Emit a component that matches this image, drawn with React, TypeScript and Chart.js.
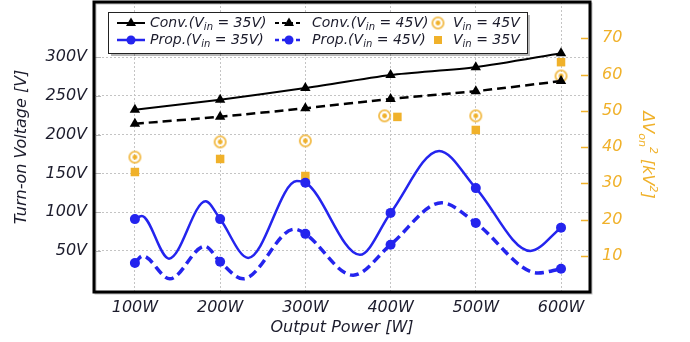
import { useEffect, useRef } from 'react';
import { Chart, registerables } from 'chart.js';

Chart.register(...registerables);

// ---------- data ----------
const powerLevels = [100, 200, 300, 400, 500, 600];
const xTickValues = [100, 200, 300, 400, 500, 600];
const yTickValues = [50, 100, 150, 200, 250, 300];
const y1TickValues = [10, 20, 30, 40, 50, 60, 70];

const convV35 = [232, 245, 260, 277, 287, 305];
const convV45 = [214, 223, 234, 246, 256, 269];
const propV35 = [91, 91, 138, 99, 131, 80];
const propV45 = [34.5, 36, 72, 58, 86, 27];

// turning points of the smoothed Prop. curves [W, V]
const propV35Turns = [
  [108, 95], [140, 40], [183, 114], [233, 41], [290, 140], [364, 45], [457, 179], [564, 50],
];
const propV45Turns = [
  [109, 43.5], [141, 14], [182, 56], [227, 14], [287, 78], [356, 18.6], [460, 112], [573, 21.5],
];

// ΔVon² [kV²]
const dvPowerV45 = [100, 200, 300, 393, 500, 600];
const dvV45 = [37.2, 41.4, 41.7, 48.6, 48.6, 59.6];
const dvPowerV35 = [100, 200, 300, 408, 500, 600];
const dvV35 = [33.1, 36.7, 32, 48.3, 44.7, 63.4];

// ---------- styles ----------
const FONT = 'DejaVu Sans';
const BLUE = '#2424ee';
const ORANGE = '#f0b12a';
const TEXT = '#1c1c2c';

function ringStyle(): HTMLCanvasElement {
  const c = document.createElement('canvas');
  c.width = 15;
  c.height = 15;
  const g = c.getContext('2d')!;
  g.strokeStyle = '#f2bb48';
  g.lineWidth = 1.8;
  g.beginPath();
  g.arc(7.5, 7.5, 5.6, 0, Math.PI * 2);
  g.stroke();
  g.fillStyle = ORANGE;
  g.beginPath();
  g.arc(7.5, 7.5, 2.4, 0, Math.PI * 2);
  g.fill();
  return c;
}

function curveData(xs: number[], ys: number[], turns: number[][]) {
  const pts = xs.map((x, i) => ({ x, y: ys[i], m: true }));
  turns.forEach(([x, y]) => pts.push({ x, y, m: false }));
  pts.sort((a, b) => a.x - b.x);
  return pts;
}

type Part = { t: string; k?: 'sub' | 'sup' };

function drawRich(ctx: CanvasRenderingContext2D, x: number, y: number, parts: Part[], size: number, color: string, measureOnly = false) {
  let cx = x;
  parts.forEach((p) => {
    const s = p.k ? Math.round(size * 0.7) : size;
    ctx.font = `italic ${s}px "${FONT}"`;
    const dy = p.k === 'sub' ? size * 0.3 : p.k === 'sup' ? -size * 0.38 : 0;
    if (!measureOnly) {
      ctx.fillStyle = color;
      ctx.fillText(p.t, cx, y + dy);
    }
    cx += ctx.measureText(p.t).width;
  });
  return cx - x;
}

const overlayPlugin = {
  id: 'overlay',
  afterDraw(chart: any) {
    const { ctx, chartArea } = chart;
    const { left, right, top, bottom } = chartArea;
    ctx.save();

    // orange inner ticks of right axis
    const y1 = chart.scales.y1;
    ctx.strokeStyle = ORANGE;
    ctx.lineWidth = 1.5;
    y1TickValues.forEach((v) => {
      const py = Math.round(y1.getPixelForValue(v)) + 0.5;
      ctx.beginPath();
      ctx.moveTo(right - 9, py);
      ctx.lineTo(right - 2, py);
      ctx.stroke();
    });
    // light inner ticks of left axis
    const ys = chart.scales.y;
    ctx.strokeStyle = '#b8b8b8';
    ctx.lineWidth = 1;
    yTickValues.forEach((v) => {
      const py = Math.round(ys.getPixelForValue(v)) + 0.5;
      ctx.beginPath();
      ctx.moveTo(left + 2, py);
      ctx.lineTo(left + 7, py);
      ctx.stroke();
    });

    // frame with slight shadow
    ctx.strokeStyle = 'rgba(0,0,0,0.25)';
    ctx.lineWidth = 2;
    ctx.strokeRect(left + 1.5, top + 1.5, right - left, bottom - top);
    ctx.strokeStyle = '#000';
    ctx.lineWidth = 3;
    ctx.strokeRect(left, top, right - left, bottom - top);

    // legend box
    const lx = 108, ly = 12, lw = 419, lh = 41;
    ctx.fillStyle = 'rgba(0,0,0,0.28)';
    ctx.fillRect(lx + 3, ly + 3, lw, lh);
    ctx.fillStyle = '#fff';
    ctx.fillRect(lx, ly, lw, lh);
    ctx.strokeStyle = '#222';
    ctx.lineWidth = 1;
    ctx.strokeRect(lx + 0.5, ly + 0.5, lw, lh);

    const rows = [23, 40];
    const drawSample = (x0: number, y: number, color: string, dash: number[], lwid: number, marker: 'tri' | 'dot') => {
      ctx.strokeStyle = color;
      ctx.lineWidth = lwid;
      ctx.setLineDash(dash);
      ctx.beginPath();
      ctx.moveTo(x0, y);
      ctx.lineTo(x0 + 28, y);
      ctx.stroke();
      ctx.setLineDash([]);
      ctx.fillStyle = color;
      ctx.beginPath();
      const cx = x0 + 14;
      if (marker === 'tri') {
        ctx.moveTo(cx, y - 5.5);
        ctx.lineTo(cx + 5, y + 3);
        ctx.lineTo(cx - 5, y + 3);
        ctx.closePath();
      } else {
        ctx.arc(cx, y, 4.5, 0, Math.PI * 2);
      }
      ctx.fill();
    };
    drawSample(117, rows[0], '#000', [], 2, 'tri');
    drawSample(275, rows[0], '#000', [4, 3], 2, 'tri');
    drawSample(117, rows[1], BLUE, [], 2.5, 'dot');
    drawSample(275, rows[1], BLUE, [4, 3], 2.5, 'dot');
    ctx.drawImage(ring, 438 - 7.5, rows[0] - 7.5);
    ctx.fillStyle = ORANGE;
    ctx.fillRect(434, rows[1] - 4, 8, 8);

    ctx.textBaseline = 'middle';
    ctx.textAlign = 'left';
    const lbl = (pre: string, val: string): Part[] => [
      { t: pre + 'V' }, { t: 'in', k: 'sub' }, { t: ' = ' + val + (pre ? ')' : '') },
    ];
    drawRich(ctx, 150, rows[0], lbl('Conv.(', '35V'), 14, TEXT);
    drawRich(ctx, 312, rows[0], lbl('Conv.(', '45V'), 14, TEXT);
    drawRich(ctx, 453, rows[0], lbl('', '45V'), 14, TEXT);
    drawRich(ctx, 150, rows[1], lbl('Prop.(', '35V'), 14, TEXT);
    drawRich(ctx, 312, rows[1], lbl('Prop.(', '45V'), 14, TEXT);
    drawRich(ctx, 453, rows[1], lbl('', '35V'), 14, TEXT);

    // right axis title
    const tparts: Part[] = [
      { t: 'ΔV' }, { t: 'on', k: 'sub' }, { t: '2', k: 'sup' }, { t: ' [kV' }, { t: '2', k: 'sup' }, { t: ']' },
    ];
    ctx.translate(647, 155);
    ctx.rotate(Math.PI / 2);
    const w = drawRich(ctx, 0, 0, tparts, 16, ORANGE, true);
    drawRich(ctx, -w / 2, 0, tparts, 16, ORANGE);

    ctx.restore();
  },
};

const ring = ringStyle();

export default function App() {
  const ref = useRef<HTMLCanvasElement | null>(null);

  useEffect(() => {
    if (!ref.current) return;
    const tickFont = { family: FONT, size: 16, style: 'italic' as const };
    const titleFont = { family: FONT, size: 16, style: 'italic' as const };
    const grid = { color: '#c4c4c4', lineWidth: 1, drawTicks: false };
    const border = { display: false, dash: [2, 2] };
    const noPadV = (s: any, w: number) => {
      s.width = w;
      s.paddingTop = 0;
      s.paddingBottom = 0;
    };

    const chart = new Chart(ref.current, {
      type: 'line',
      data: {
        datasets: [
          {
            label: 'Conv.(Vin = 35V)',
            data: powerLevels.map((x, i) => ({ x, y: convV35[i] })),
            borderColor: '#000',
            backgroundColor: '#000',
            borderWidth: 2,
            pointStyle: 'triangle',
            pointRadius: 6,
            pointBorderWidth: 0,
            tension: 0.25,
            yAxisID: 'y',
          },
          {
            label: 'Conv.(Vin = 45V)',
            data: powerLevels.map((x, i) => ({ x, y: convV45[i] })),
            borderColor: '#000',
            backgroundColor: '#000',
            borderWidth: 2.5,
            borderDash: [9, 5],
            pointStyle: 'triangle',
            pointRadius: 6,
            pointBorderWidth: 0,
            tension: 0.25,
            yAxisID: 'y',
          },
          {
            label: 'Prop.(Vin = 35V)',
            data: curveData(powerLevels, propV35, propV35Turns),
            borderColor: BLUE,
            backgroundColor: BLUE,
            borderWidth: 2.5,
            cubicInterpolationMode: 'monotone',
            pointRadius: (c: any) => (c.raw && c.raw.m ? 5 : 0),
            pointBorderWidth: 0,
            yAxisID: 'y',
          },
          {
            label: 'Prop.(Vin = 45V)',
            data: curveData(powerLevels, propV45, propV45Turns),
            borderColor: BLUE,
            backgroundColor: BLUE,
            borderWidth: 3.5,
            borderDash: [9, 5],
            cubicInterpolationMode: 'monotone',
            pointRadius: (c: any) => (c.raw && c.raw.m ? 5 : 0),
            pointBorderWidth: 0,
            yAxisID: 'y',
          },
          {
            label: 'Vin = 45V',
            data: dvPowerV45.map((x, i) => ({ x, y: dvV45[i] })),
            showLine: false,
            pointStyle: ring,
            pointRadius: 7,
            yAxisID: 'y1',
          },
          {
            label: 'Vin = 35V',
            data: dvPowerV35.map((x, i) => ({ x, y: dvV35[i] })),
            showLine: false,
            pointStyle: 'rect',
            pointRadius: 6,
            pointBorderWidth: 0,
            backgroundColor: ORANGE,
            borderColor: ORANGE,
            yAxisID: 'y1',
          },
        ] as any,
      },
      options: {
        responsive: false,
        animation: false,
        layout: { autoPadding: false, padding: { top: 2, left: 0, right: 0, bottom: 0 } },
        plugins: { legend: { display: false }, tooltip: { enabled: false } },
        scales: {
          x: {
            type: 'linear',
            min: 52,
            max: 634,
            afterBuildTicks: (s: any) => {
              s.ticks = xTickValues.map((v) => ({ value: v }));
            },
            afterFit: (s: any) => {
              s.height = 50;
              s.paddingLeft = 0;
              s.paddingRight = 0;
            },
            ticks: {
              callback: (v: any) => v + 'W',
              font: tickFont,
              color: TEXT,
              padding: 6,
              maxRotation: 0,
              autoSkip: false,
            },
            grid,
            border,
            title: {
              display: true,
              text: 'Output Power [W]',
              font: titleFont,
              color: TEXT,
              padding: { top: 0, bottom: 5 },
            },
          },
          y: {
            type: 'linear',
            position: 'left',
            min: -3,
            max: 371,
            afterBuildTicks: (s: any) => {
              s.ticks = yTickValues.map((v) => ({ value: v }));
            },
            afterFit: (s: any) => noPadV(s, 94),
            ticks: {
              callback: (v: any) => v + 'V',
              font: tickFont,
              color: TEXT,
              padding: 7,
            },
            grid,
            border,
            title: {
              display: true,
              text: 'Turn-on Voltage [V]',
              font: titleFont,
              color: TEXT,
              padding: { top: 12, bottom: 0 },
            },
          },
          y1: {
            type: 'linear',
            position: 'right',
            min: 0,
            max: 80,
            afterBuildTicks: (s: any) => {
              s.ticks = y1TickValues.map((v) => ({ value: v }));
            },
            afterFit: (s: any) => noPadV(s, 100),
            ticks: {
              font: tickFont,
              color: ORANGE,
              padding: 12,
            },
            grid: { display: false, drawTicks: false },
            border: { display: false },
          },
        },
      } as any,
      plugins: [overlayPlugin],
    });
    return () => chart.destroy();
  }, []);

  return (
    <canvas
      ref={ref}
      width={690}
      height={342}
      style={{ position: 'fixed', left: 0, top: 0, width: 690, height: 342, display: 'block', background: '#fff' }}
    />
  );
}
